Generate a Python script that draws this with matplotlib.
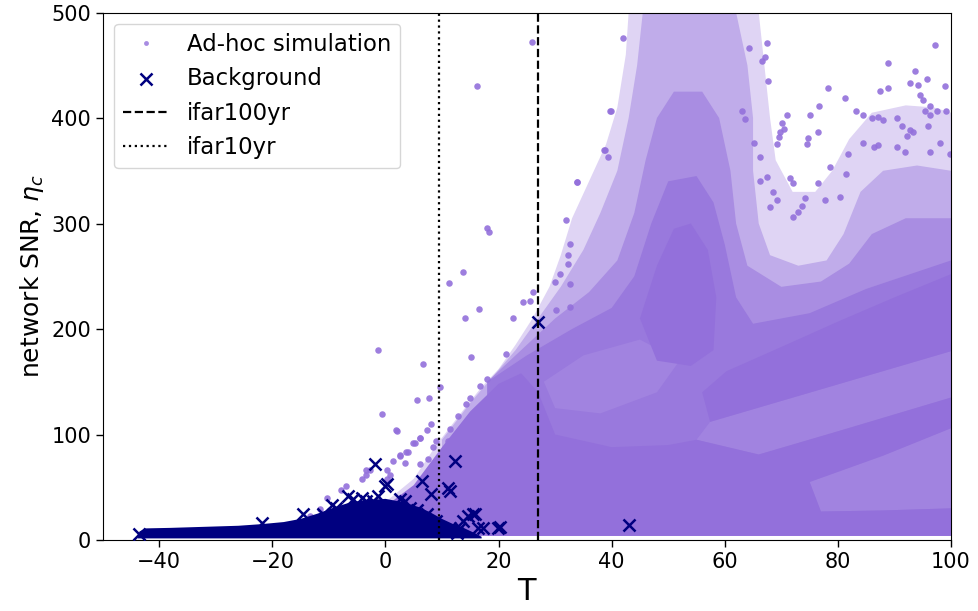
import matplotlib
matplotlib.use("Agg")
import matplotlib.pyplot as plt
from matplotlib.lines import Line2D
from matplotlib.colors import to_rgb

# ---------------- data ----------------
ifar100yr_T = 26.9
ifar10yr_T = 9.5

# Background events (individual crosses)
bkg_T = [-43.5, -21.9, -14.5, -1.9, -0.1, -1.3, -5.7, -6.6, 3.4, 6.4, 8.1, 12.3,
         11.1, 11.4, 15.5, 16.4, 13.7, 11.4, 12.6, 9.0, 7.3, 4.3, 2.5, -2.2, -4.2,
         -8.7, -11.0, 27.0, 20.2, 17.3, 15.8, 14.6, 13.1, 0.2, -3.4, 43.0, 19.9,
         -9.5, 1.0, 5.5]
bkg_snr = [5.7, 16.5, 25.0, 72.5, 51.3, 41.8, 38.6, 41.8, 37.0, 56.0, 43.4, 75.1,
           49.7, 46.6, 24.4, 11.7, 18.0, 11.7, 7.0, 18.0, 24.4, 30.7, 38.6, 37.0, 40.0,
           30.7, 24.4, 206.6, 12.3, 11.7, 24.4, 22.8, 11.7, 53.0, 37.0, 14.0, 11.7,
           33.0, 30.0, 28.0]

# Envelope of the densely packed background crosses
bkg_band_T = [-43.8, -43.5, -42.5, -38, -32, -26, -22, -18, -15, -12, -9, -6, -3,
              0, 3, 6, 8, 10, 12, 14, 16, 17, 17]
bkg_band_snr = [1.5, 8, 11, 11.5, 12.5, 13.5, 15, 17, 20, 25, 31, 36, 38,
                39, 36, 31, 26, 20, 15, 11, 6, 3, 1.5]

# Ad-hoc simulation: envelopes of regions, from sparsest (level 1) to solid (level 5)
sim_lvl1_T = [[-5, 0, 5, 9, 13, 17, 20, 23, 26, 29, 31, 33, 36, 39, 41, 42.5, 43,
               66, 67, 68, 69, 72, 76, 79, 82, 86, 92, 97, 100, 100, -5]]
sim_lvl1_snr = [[22, 36, 58, 90, 118, 145, 162, 185, 210, 240, 270, 305, 340, 375,
                 410, 460, 500, 500, 450, 400, 360, 330, 330, 350, 380, 405, 412,
                 410, 405, 4, 4]]

sim_lvl2_T = [[10, 15, 19, 23, 27, 31, 35, 38, 41, 43, 44.5, 45.5, 62, 64, 65, 65,
               66, 68, 73, 78, 81, 84, 88, 94, 100, 100, 10]]
sim_lvl2_snr = [[95, 130, 155, 180, 210, 240, 275, 310, 350, 400, 450, 500, 500, 450,
                 400, 350, 300, 270, 260, 265, 290, 330, 350, 355, 350, 4, 4]]

sim_lvl3_T = [[18, 24, 30, 36, 41, 44, 46, 48, 51, 56, 59, 61, 62, 64, 70, 77, 82,
               86, 92, 100, 100, 18]]
sim_lvl3_snr = [[150, 180, 210, 235, 265, 310, 360, 400, 425, 425, 400, 350, 300, 260,
                 240, 245, 262, 290, 305, 305, 4, 4]]

sim_lvl4_T = [[18, 25, 33, 40, 44, 47, 50, 55, 58, 60, 62, 65, 75, 85, 100, 100, 18]]
sim_lvl4_snr = [[150, 175, 200, 220, 250, 300, 340, 345, 320, 280, 230, 205, 215, 238,
                 265, 4, 4]]

sim_gap_T = [[55, 66, 80, 100, 100, 57.4],
             [75, 88, 100, 100, 88, 77],
             [28, 35, 45, 52, 48, 38, 30]]
sim_gap_snr = [[95, 81, 103, 135, 179, 112],
               [55, 80, 106, 30, 28, 27],
               [150, 175, 190, 170, 140, 120, 125]]

sim_lvl5_T = [[-15, -5, 0, 5, 10, 15, 20, 24, 27, 30, 40, 50, 55, 66, 80, 100, 100,
               88, 75, 77, 88, 100, 100, -15],
              [57.4, 100, 100, 90, 80, 70, 60.3, 56],
              [45, 48, 51, 54, 57, 58.5, 58, 54, 48]]
sim_lvl5_snr = [[4, 20, 32, 52, 88, 122, 148, 158, 140, 100, 88, 90, 95, 81, 103, 135,
                 106, 80, 55, 27, 28, 30, 4, 4],
                [112, 179, 252, 230, 207, 183, 160, 140],
                [210, 260, 295, 300, 275, 230, 180, 165, 170]]

# Sparse (isolated) simulation points
sim_T = [13.7, 11.3, 16.6, 14.0, -1.3, 15.2, 6.7, 9.6, 5.5, 7.7, -0.7, 2.1, 8.1, 4.9,
         6.1, 11.4, 12.9, 14.3, 14.9, 17.9, 16.7, 2.5, 3.7, 0.2, -3.4, 1.4, 9.0, 11.1,
         21.4, 22.6, 24.4, 25.5, 26.1, 30.8, 32.3, 32.6, 29.9, 32.6, 30.2, 32.6,
         1.95, 6.1, 7.3, 5.2, 2.5, 4.0, 0.8, 0.2, -3.4, -2.8, -4.2, -6.9, -7.8, -10.4,
         -11.6, -13.4, 3.4, 6.1, 7.5, 8.4,
         25.9, 16.2, 18.0, 18.3, 39.8, 42.0, 33.8, 38.6, 39.3, 32.0, 32.3,
         97.2, 88.9, 93.6, 92.7, 94.2, 95.7, 98.9, 87.4, 88.9, 78.3, 81.3, 76.7, 75.0,
         71.0, 70.1, 76.5, 74.8, 74.5, 69.8, 70.5, 69.2, 69.5, 67.4, 66.5, 67.1, 64.3,
         67.7, 83.2, 84.5, 86.0, 87.1, 88.0, 90.4, 91.3, 92.7, 92.2, 96.3, 96.3, 97.5,
         99.2, 94.5, 95.1, 95.4, 96.0, 93.3, 81.8, 78.6, 81.5, 76.5, 72.1, 71.5, 84.5,
         86.3, 87.1, 90.4, 91.9, 96.3, 98.1, 99.8, 77.7, 80.4, 74.2, 73.6, 73.0, 72.1,
         68.6, 69.2, 68.0, 66.2, 67.4, 65.1, 66.2, 63.6, 63.0, 39.7, 38.8, 33.8]
sim_snr = [254, 244, 219, 210, 180, 173, 167, 145, 133, 135, 119, 103, 110, 92,
           97, 105, 118, 129, 135, 153, 146, 81, 83, 66, 66, 75, 94, 94,
           176, 210, 226, 227, 235, 252, 262, 281, 245, 243, 218, 221,
           104, 97, 104, 92, 80, 83, 62, 58, 62, 66, 58, 51, 47, 40,
           29, 23, 73, 72, 77, 88,
           472, 430, 296, 292, 407, 476, 339, 370, 363, 303, 270,
           469, 452, 445, 433, 431, 437, 430, 426, 428, 428, 419, 411, 403,
           403, 395, 387, 381, 375, 387, 390, 375, 382, 471, 454, 458, 466,
           435, 407, 403, 400, 401, 398, 400, 392, 389, 383, 411, 403, 407,
           407, 422, 417, 407, 392, 387, 366, 354, 347, 338, 338, 343, 376,
           373, 374, 373, 368, 368, 376, 366, 322, 325, 324, 317, 311, 306,
           330, 322, 316, 340, 344, 376, 363, 399, 407, 407, 370, 339]

x_ticks = [-40, -20, 0, 20, 40, 60, 80, 100]
y_ticks = [0, 100, 200, 300, 400, 500]

# ---------------- plot ----------------
SIM = "mediumpurple"
BKG = "navy"


def shade(f):
    r, g, b = to_rgb(SIM)
    return (1 - f * (1 - r), 1 - f * (1 - g), 1 - f * (1 - b))


fig = plt.figure(figsize=(9.79, 6.11), dpi=100)
ax = fig.add_axes([0.1049, 0.1162, 0.9714 - 0.1049, 0.9795 - 0.1162])

levels = [(sim_lvl1_T, sim_lvl1_snr, 0.30), (sim_lvl2_T, sim_lvl2_snr, 0.58),
          (sim_lvl3_T, sim_lvl3_snr, 0.80), (sim_lvl4_T, sim_lvl4_snr, 0.94),
          (sim_gap_T, sim_gap_snr, 0.87), (sim_lvl5_T, sim_lvl5_snr, 1.0)]
for k, (Tl, Sl, cover) in enumerate(levels):
    for Ts, Ss in zip(Tl, Sl):
        ax.fill(Ts, Ss, color=shade(cover), lw=0, zorder=1 + 0.1 * k)

ax.scatter(sim_T, sim_snr, s=22, color=SIM, alpha=0.9, linewidths=0, zorder=2)

ax.fill(bkg_band_T, bkg_band_snr, color=BKG, lw=0, zorder=3)
bkg_sc = ax.scatter(bkg_T, bkg_snr, s=75, marker="x", color=BKG, linewidths=1.8,
                    zorder=3.5)

l100 = ax.axvline(ifar100yr_T, color="black", ls="--", lw=1.6, zorder=4)
l10 = ax.axvline(ifar10yr_T, color="black", ls=":", lw=1.6, zorder=4)

ax.set_xlim(-50, 100)
ax.set_ylim(0, 500)
ax.set_xticks(x_ticks)
ax.set_yticks(y_ticks)
ax.tick_params(labelsize=15, length=4.8, width=1.0)
ax.set_xlabel("T", fontsize=22)
ax.set_ylabel(r"network SNR, $\eta_c$", fontsize=18)

h_sim = Line2D([], [], ls="none", marker="o", markersize=3.5, color=SIM, alpha=0.8,
               markeredgewidth=0)
ax.legend([h_sim, bkg_sc, l100, l10],
          ["Ad-hoc simulation", "Background", "ifar100yr", "ifar10yr"],
          loc="upper left", fontsize=16.4, handlelength=2.0)

fig.savefig("out.png", dpi=100)
